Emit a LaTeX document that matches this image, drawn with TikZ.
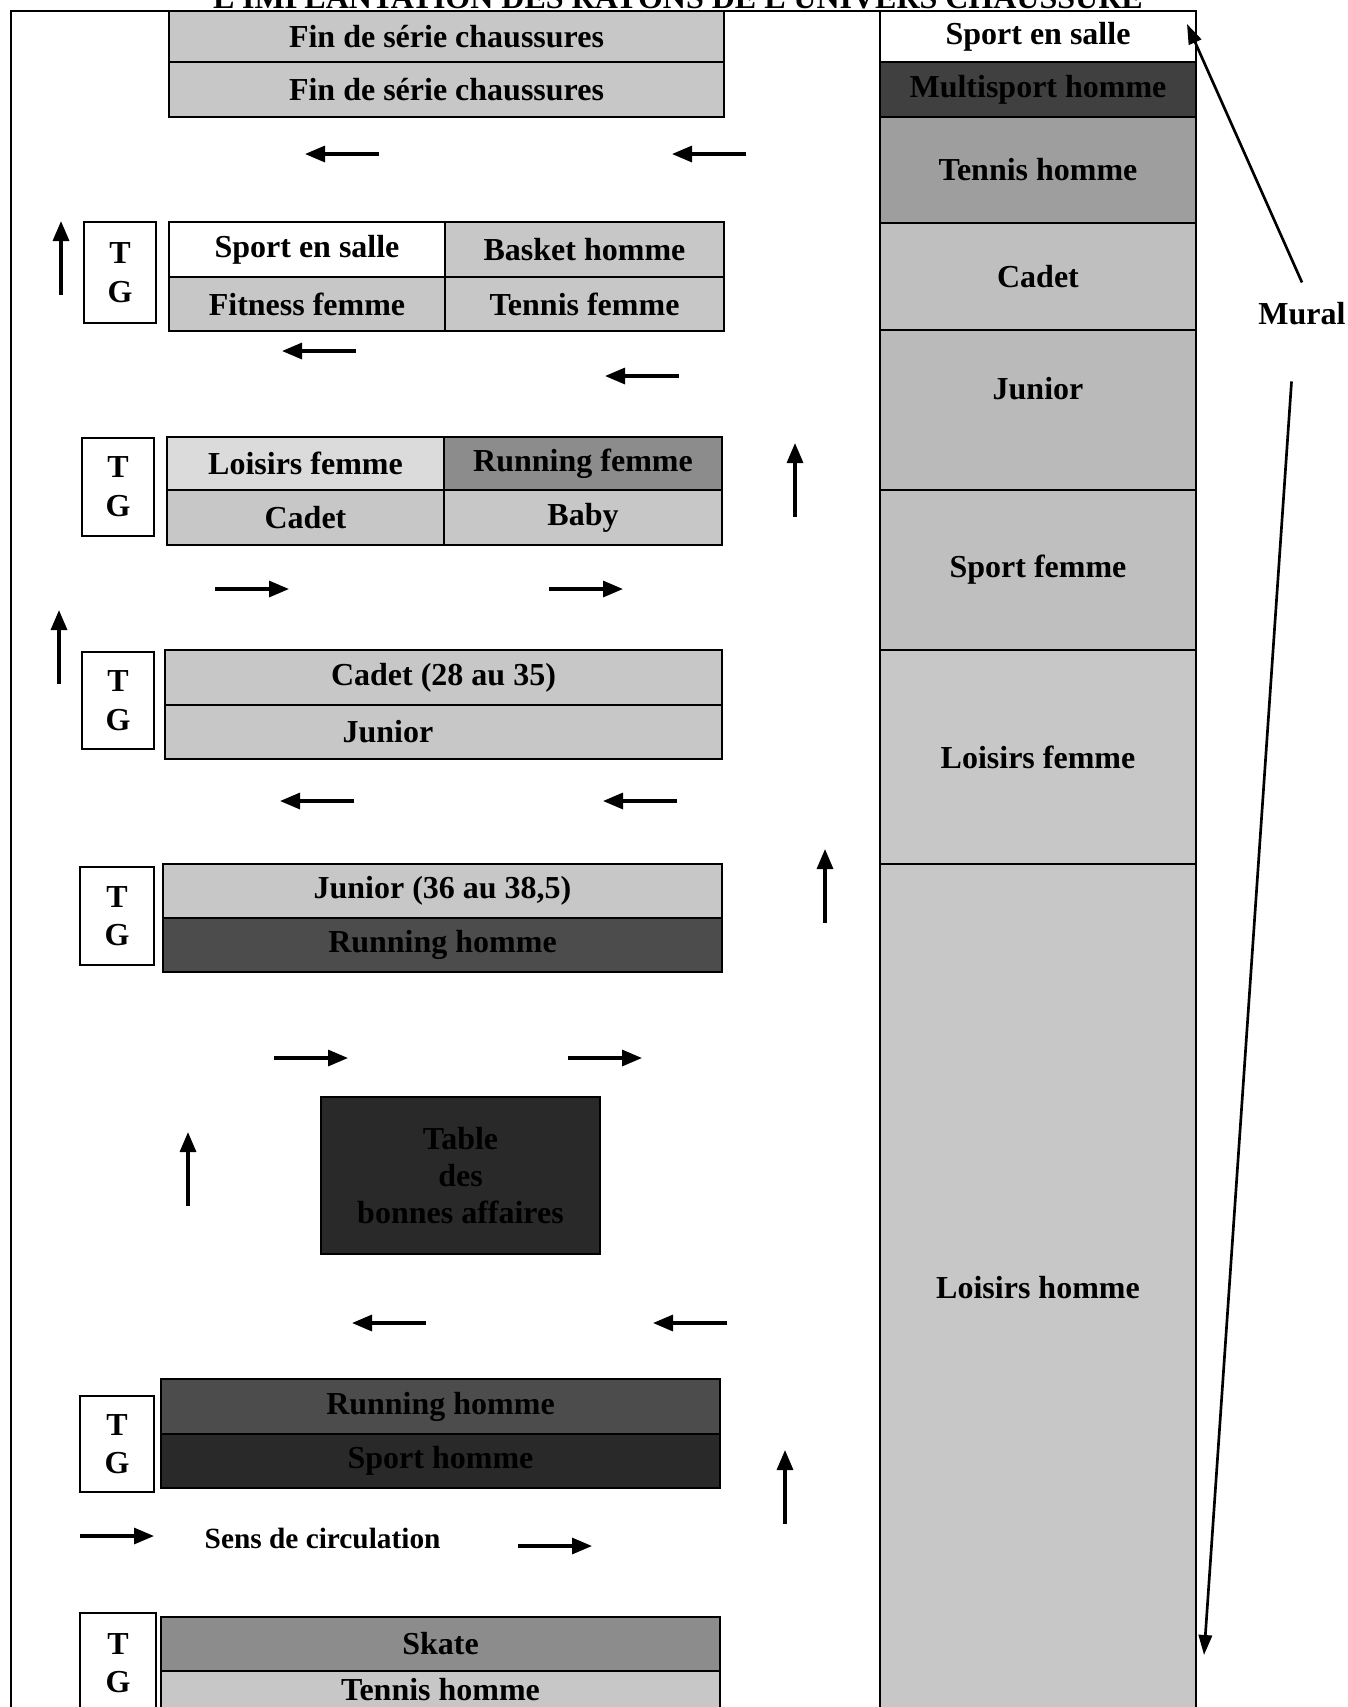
\documentclass[tikz,border=0pt]{standalone}
\usepackage{fontspec}
\setmainfont{Liberation Serif}
\usetikzlibrary{arrows.meta}

\newlength\px
\setlength\px{0.75pt}

\colorlet{paleshelf}{black!22}
\colorlet{lightshelf}{black!14}
\colorlet{midshelf}{black!45}
\colorlet{darkshelf}{black!70}
\colorlet{blackshelf}{black!84}

\begin{document}
\begin{tikzpicture}[
    x=0.75pt, y=-0.75pt,
    font=\fontsize{24}{29}\selectfont\bfseries,
    shelf/.style={
        rectangle, draw, line width=2pt,
        inner sep=0pt, outer sep=0pt, align=center
    },
    tg/.style={
        rectangle, draw, line width=1.5pt, fill=white,
        inner sep=0pt, align=center, minimum width=72\px
    },
    wall/.style={
        rectangle, draw, line width=1.2pt,
        inner sep=0pt, align=center, minimum width=316\px
    },
    flow/.style={-{Triangle[length=15pt, width=12pt]}, line width=2.4pt},
    pointer/.style={-{Triangle[length=15pt, width=10pt]}, line width=2pt},
]

    \useasboundingbox (0,0) rectangle (1348,1707);
    \clip (0,0) rectangle (1348,1707);

    % ---------- Title (cut by the page edge) ----------
    \node[anchor=base] (title) at (678,8) {L'IMPLANTATION DES RAYONS DE L'UNIVERS CHAUSSURE};

    % ---------- Room outline ----------
    \draw[line width=2pt] (11,1707) -- (11,11) -- (880,11);

    % ---------- Fin de serie ----------
    \node[shelf, fill=paleshelf, minimum width=555\px, minimum height=51\px] (fin1) at (446.5,36.5) {Fin de série chaussures};
    \node[shelf, fill=paleshelf, minimum width=555\px, minimum height=55\px] (fin2) at (446.5,89.5) {Fin de série chaussures};

    \draw[flow] (379,154) -- (305,154);
    \draw[flow] (746,154) -- (672,154);

    % ---------- Gondola 2 ----------
    \node[tg, minimum height=101\px] (tg2) at (120,272.5) {T\\G};
    \node[shelf, fill=white, minimum width=276\px, minimum height=55\px] (salle) at (307,249.5) {Sport en salle};
    \node[shelf, fill=paleshelf, minimum width=279\px, minimum height=55\px] (basket) at (584.5,249.5) {Basket homme};
    \node[shelf, fill=paleshelf, minimum width=276\px, minimum height=54\px] (fitness) at (307,304) {Fitness femme};
    \node[shelf, fill=paleshelf, minimum width=279\px, minimum height=54\px] (tennisF) at (584.5,304) {Tennis femme};

    \draw[flow] (61,295) -- (61,221);
    \draw[flow] (356,351) -- (282,351);
    \draw[flow] (679,376) -- (605,376);

    % ---------- Gondola 3 ----------
    \node[tg, minimum height=98\px] (tg3) at (118,487) {T\\G};
    \node[shelf, fill=lightshelf, minimum width=277\px, minimum height=53\px] (loisirsF) at (305.5,463.5) {Loisirs femme};
    \node[shelf, fill=midshelf, minimum width=278\px, minimum height=53\px] (runningF) at (583,463.5) {Running femme};
    \node[shelf, fill=paleshelf, minimum width=277\px, minimum height=55\px] (cadet) at (305.5,517.5) {Cadet};
    \node[shelf, fill=paleshelf, minimum width=278\px, minimum height=55\px] (baby) at (583,517.5) {Baby};

    \draw[flow] (795,517) -- (795,443);
    \draw[flow] (215,589) -- (289,589);
    \draw[flow] (549,589) -- (623,589);
    \draw[flow] (59,684) -- (59,610);

    % ---------- Gondola 4 ----------
    \node[tg, minimum height=97\px] (tg4) at (118,700.5) {T\\G};
    \node[shelf, fill=paleshelf, minimum width=557\px, minimum height=55\px] (cadetTaille) at (443.5,677.5) {Cadet (28 au 35)};
    \node[shelf, fill=paleshelf, minimum width=557\px, minimum height=54\px] (junior) at (443.5,732) {Junior\hspace*{111\px}};

    \draw[flow] (354,801) -- (280,801);
    \draw[flow] (677,801) -- (603,801);
    \draw[flow] (825,923) -- (825,849);

    % ---------- Gondola 5 ----------
    \node[tg, minimum width=74\px, minimum height=98\px] (tg5) at (117,916) {T\\G};
    \node[shelf, fill=paleshelf, minimum width=559\px, minimum height=54\px] (juniorTaille) at (442.5,891) {Junior (36 au 38,5)};
    \node[shelf, fill=darkshelf, minimum width=559\px, minimum height=54\px] (runningH) at (442.5,945) {Running homme};

    \draw[flow] (274,1058) -- (348,1058);
    \draw[flow] (568,1058) -- (642,1058);

    % ---------- Table ----------
    \node[shelf, line width=1pt, fill=blackshelf, minimum width=279\px, minimum height=157\px,
          font=\fontsize{24}{28}\selectfont\bfseries] (table) at (460.5,1175.5) {Table\\des\\bonnes affaires};

    \draw[flow] (188,1206) -- (188,1132);
    \draw[flow] (426,1323) -- (352,1323);
    \draw[flow] (727,1323) -- (653,1323);

    % ---------- Gondola 6 ----------
    \node[tg, minimum width=74\px, minimum height=96\px] (tg6) at (117,1444) {T\\G};
    \node[shelf, fill=darkshelf, minimum width=559\px, minimum height=55\px] (runningH2) at (440.5,1406.5) {Running homme};
    \node[shelf, fill=blackshelf, minimum width=559\px, minimum height=54\px] (sportH) at (440.5,1461) {Sport homme};

    \draw[flow] (785,1524) -- (785,1450);

    % ---------- Legend ----------
    \draw[flow] (80,1536) -- (154,1536);
    \node[anchor=west, font=\fontsize{22}{26}\selectfont\bfseries] (legend) at (200,1538) {Sens de circulation};
    \draw[flow] (518,1546) -- (592,1546);

    % ---------- Gondola 7 ----------
    \node[tg, minimum width=76\px, minimum height=100\px] (tg7) at (118,1663) {T\\G};
    \node[shelf, fill=midshelf, minimum width=559\px, minimum height=54\px] (skate) at (440.5,1644) {Skate};
    \node[shelf, fill=paleshelf, minimum width=559\px, minimum height=38\px] (tennisH) at (440.5,1690) {Tennis homme};

    % ---------- Mural (right column) ----------
    \node[wall, fill=white, minimum height=51\px] (wSalle) at (1038,36.5) {Sport en salle};
    \node[wall, fill=black!75, minimum height=55\px] (wMulti) at (1038,89.5) {Multisport homme};
    \node[wall, fill=black!38, minimum height=106\px] (wTennis) at (1038,170) {Tennis homme};
    \node[wall, fill=black!25, minimum height=107\px] (wCadet) at (1038,276.5) {Cadet};
    \node[wall, fill=black!27, minimum height=160\px, label={[yshift=21\px]center:Junior}] (wJunior) at (1038,410) {};
    \node[wall, fill=black!25, minimum height=160\px] (wSportF) at (1038,570) {Sport femme};
    \node[wall, fill=black!22, minimum height=214\px] (wLoisirsF) at (1038,757) {Loisirs femme};
    \node[wall, fill=black!22, minimum height=848\px] (wLoisirsH) at (1038,1288) {Loisirs homme};

    \node[inner xsep=0pt, inner ysep=15pt] (mural) at (1302,314) {Mural};
    \coordinate (muralTop) at (1187,24);
    \coordinate (muralBottom) at (1204,1655);
    \draw[pointer] (mural.north) -- (muralTop);
    \draw[pointer, shorten <=27pt] ([xshift=-8\px]mural.south) -- (muralBottom);

\end{tikzpicture}
\end{document}
